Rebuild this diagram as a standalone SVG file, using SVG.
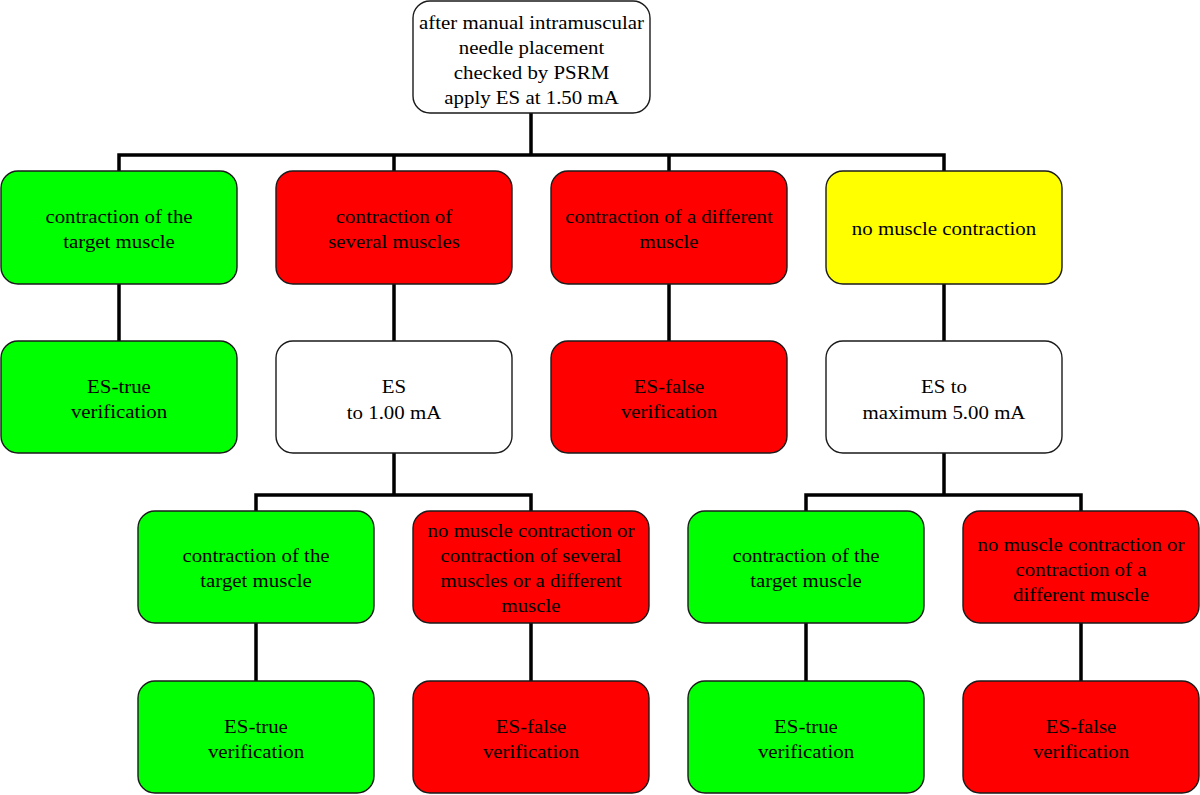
<svg xmlns="http://www.w3.org/2000/svg" width="1200" height="795" viewBox="0 0 1200 795">
<style>
.box{stroke:#1a1a1a;stroke-width:1.4}
.g{fill:#00ff00}.r{fill:#ff0000}.y{fill:#ffff00}.w{fill:#ffffff}
.t{font-family:"Liberation Serif","Times New Roman",serif;font-size:18px;fill:#000;text-anchor:middle}
.c{fill:none;stroke:#000;stroke-width:3.5;stroke-linejoin:miter}
</style>
<rect width="1200" height="795" fill="#fff"/>
<g id="connectors">
<path class="c" d="M531 113V155M119 171V155H944V171M394 155V171M669 155V171"/>
<path class="c" d="M119 284V341M394 284V341M669 284V341M944 284V341"/>
<path class="c" d="M394 453V495M256 511V495H531V511"/>
<path class="c" d="M944 453V495M806 511V495H1081V511"/>
<path class="c" d="M256 623V681M531 623V681M806 623V681M1081 623V681"/>
</g>
<g id="n0"><rect class="box w" x="413" y="1" width="237" height="112" rx="17"/>
<text class="t" transform="matrix(1.16 0 0 1 531.5 0)"><tspan x="0" y="29">after manual intramuscular</tspan><tspan x="0" y="54">needle placement</tspan><tspan x="0" y="79">checked by PSRM</tspan><tspan x="0" y="104">apply ES at 1.50 mA</tspan></text></g>
<g id="n1"><rect class="box g" x="1" y="171" width="236" height="113" rx="17"/>
<text class="t" transform="matrix(1.16 0 0 1 119 0)"><tspan x="0" y="223">contraction of the</tspan><tspan x="0" y="248">target muscle</tspan></text></g>
<g id="n2"><rect class="box r" x="276" y="171" width="236" height="113" rx="17"/>
<text class="t" transform="matrix(1.16 0 0 1 394 0)"><tspan x="0" y="223">contraction of</tspan><tspan x="0" y="248">several muscles</tspan></text></g>
<g id="n3"><rect class="box r" x="551" y="171" width="236" height="113" rx="17"/>
<text class="t" transform="matrix(1.16 0 0 1 669 0)"><tspan x="0" y="223">contraction of a different</tspan><tspan x="0" y="248">muscle</tspan></text></g>
<g id="n4"><rect class="box y" x="826" y="171" width="236" height="113" rx="17"/>
<text class="t" transform="matrix(1.16 0 0 1 944 0)"><tspan x="0" y="235">no muscle contraction</tspan></text></g>
<g id="n5"><rect class="box g" x="1" y="341" width="236" height="112" rx="17"/>
<text class="t" transform="matrix(1.16 0 0 1 119 0)"><tspan x="0" y="393">ES-true</tspan><tspan x="0" y="418">verification</tspan></text></g>
<g id="n6"><rect class="box w" x="276" y="341" width="236" height="112" rx="17"/>
<text class="t" transform="matrix(1.16 0 0 1 394 0)"><tspan x="0" y="393">ES</tspan><tspan x="0" y="419">to 1.00 mA</tspan></text></g>
<g id="n7"><rect class="box r" x="551" y="341" width="236" height="112" rx="17"/>
<text class="t" transform="matrix(1.16 0 0 1 669 0)"><tspan x="0" y="393">ES-false</tspan><tspan x="0" y="418">verification</tspan></text></g>
<g id="n8"><rect class="box w" x="826" y="341" width="236" height="112" rx="17"/>
<text class="t" transform="matrix(1.16 0 0 1 944 0)"><tspan x="0" y="393">ES to</tspan><tspan x="0" y="419">maximum 5.00 mA</tspan></text></g>
<g id="n9"><rect class="box g" x="138" y="511" width="236" height="112" rx="17"/>
<text class="t" transform="matrix(1.16 0 0 1 256 0)"><tspan x="0" y="562">contraction of the</tspan><tspan x="0" y="587">target muscle</tspan></text></g>
<g id="n10"><rect class="box r" x="413" y="511" width="236" height="112" rx="17"/>
<text class="t" transform="matrix(1.16 0 0 1 531 0)"><tspan x="0" y="537">no muscle contraction or</tspan><tspan x="0" y="562">contraction of several</tspan><tspan x="0" y="587">muscles or a different</tspan><tspan x="0" y="612">muscle</tspan></text></g>
<g id="n11"><rect class="box g" x="688" y="511" width="236" height="112" rx="17"/>
<text class="t" transform="matrix(1.16 0 0 1 806 0)"><tspan x="0" y="562">contraction of the</tspan><tspan x="0" y="587">target muscle</tspan></text></g>
<g id="n12"><rect class="box r" x="963" y="511" width="236" height="112" rx="17"/>
<text class="t" transform="matrix(1.16 0 0 1 1081 0)"><tspan x="0" y="551">no muscle contraction or</tspan><tspan x="0" y="576">contraction of a</tspan><tspan x="0" y="601">different muscle</tspan></text></g>
<g id="n13"><rect class="box g" x="138" y="681" width="236" height="112" rx="17"/>
<text class="t" transform="matrix(1.16 0 0 1 256 0)"><tspan x="0" y="733">ES-true</tspan><tspan x="0" y="758">verification</tspan></text></g>
<g id="n14"><rect class="box r" x="413" y="681" width="236" height="112" rx="17"/>
<text class="t" transform="matrix(1.16 0 0 1 531 0)"><tspan x="0" y="733">ES-false</tspan><tspan x="0" y="758">verification</tspan></text></g>
<g id="n15"><rect class="box g" x="688" y="681" width="236" height="112" rx="17"/>
<text class="t" transform="matrix(1.16 0 0 1 806 0)"><tspan x="0" y="733">ES-true</tspan><tspan x="0" y="758">verification</tspan></text></g>
<g id="n16"><rect class="box r" x="963" y="681" width="236" height="112" rx="17"/>
<text class="t" transform="matrix(1.16 0 0 1 1081 0)"><tspan x="0" y="733">ES-false</tspan><tspan x="0" y="758">verification</tspan></text></g>
</svg>
